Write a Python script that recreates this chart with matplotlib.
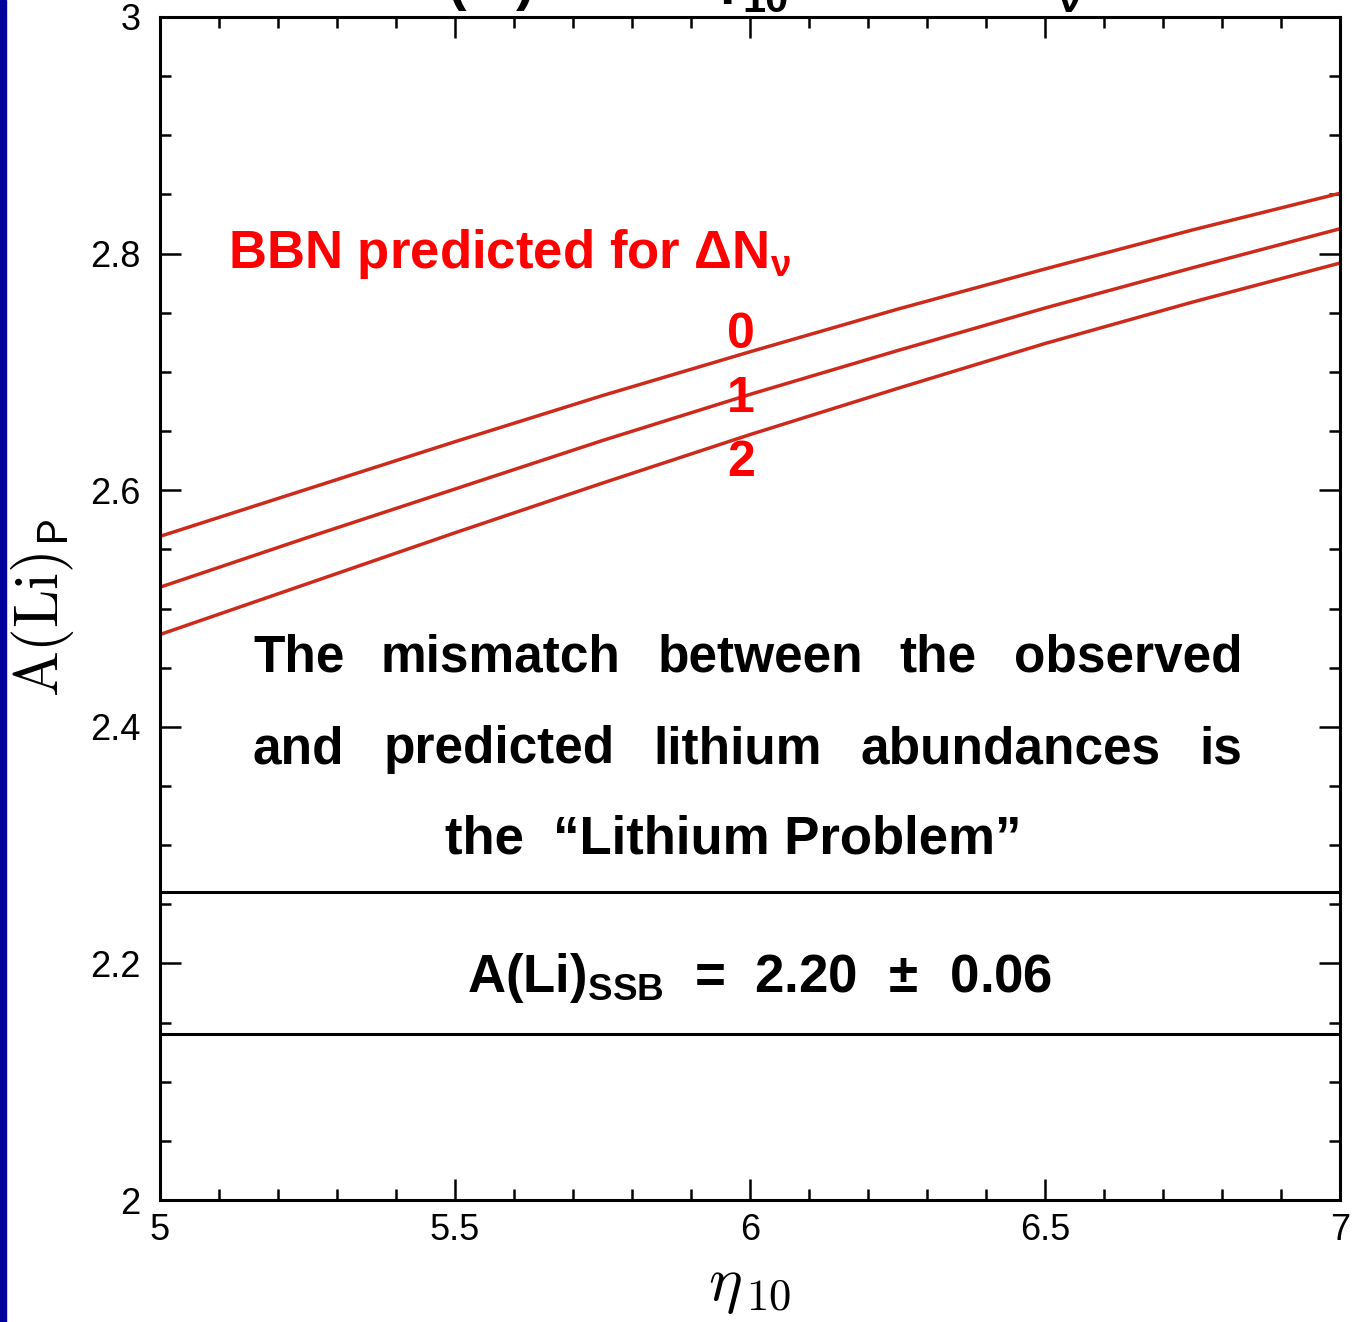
import matplotlib
matplotlib.use('Agg')
from matplotlib import pyplot as plt
from matplotlib.patches import Rectangle
from matplotlib.ticker import MultipleLocator

##########################################################################
#
#   Data
#
##########################################################################

# baryon-to-photon ratio eta_10 and predicted primordial lithium A(Li)_P
eta10 = [5.0, 5.25, 5.5, 5.75, 6.0, 6.25, 6.5, 6.75, 7.0]
dN0 = [2.561, 2.601, 2.641, 2.680, 2.717, 2.753, 2.787, 2.820, 2.851]
dN1 = [2.518, 2.560, 2.601, 2.642, 2.681, 2.718, 2.754, 2.788, 2.821]
dN2 = [2.478, 2.521, 2.564, 2.606, 2.647, 2.686, 2.724, 2.759, 2.792]
curve_labels = ['0', '1', '2']

# observed (stellar) plateau value
li_obs = 2.20
li_err = 0.06

text_lines = [
    ['The', 'mismatch', 'between', 'the', 'observed'],
    ['and', 'predicted', 'lithium', 'abundances', 'is'],
]
last_line = 'the  \u201cLithium Problem\u201d'

##########################################################################
#
#   Figure
#
##########################################################################

W, H = 1354, 1322
plt.rcParams['font.family'] = ['Liberation Sans', 'DejaVu Sans']
plt.rcParams['mathtext.fontset'] = 'custom'
plt.rcParams['mathtext.rm'] = 'Liberation Sans:bold'
plt.rcParams['mathtext.it'] = 'Liberation Sans:bold'
plt.rcParams['mathtext.bf'] = 'Liberation Sans:bold'

fig = plt.figure(figsize=(W / 100, H / 100), dpi=100)
ax = fig.add_axes([160 / W, 1 - 1200 / H, 1180 / W, 1183 / H])

# blue slide border on the left
fig.patches.append(Rectangle((0, 0), 6 / W, 1, transform=fig.transFigure,
                             color='#00009c', zorder=0))


def px(x, y):
    return x / W, 1 - y / H


# slide title, mostly cut off at the top edge
title_kw = dict(fontsize=40, fontweight='bold', va='baseline')
fig.text(*px(535, -1), 'A(Li)', ha='right', **title_kw)
fig.text(*px(700, -8), '\u03b7', ha='left', **title_kw)
fig.text(*px(742, 12), '10', ha='left', fontsize=30, fontweight='bold')
fig.text(*px(1040, -8), '\u0394N', ha='right', **title_kw)
fig.text(*px(1058, 12), '\u03bd', ha='left', fontsize=30, fontweight='bold')

line_color = '#cc2a1a'
for ys in (dN0, dN1, dN2):
    ax.plot(eta10, ys, color=line_color, lw=2.5, solid_capstyle='butt')

ax.axhline(li_obs + li_err, color='black', lw=2.2)
ax.axhline(li_obs - li_err, color='black', lw=2.2)

ax.set_xlim(5, 7)
ax.set_ylim(2, 3)
ax.xaxis.set_minor_locator(MultipleLocator(0.1))
ax.yaxis.set_minor_locator(MultipleLocator(0.05))
ax.set_xticks([5, 5.5, 6, 6.5, 7])
ax.set_xticklabels(['5', '5.5', '6', '6.5', '7'])
ax.set_yticks([2, 2.2, 2.4, 2.6, 2.8, 3])
ax.set_yticklabels(['2', '2.2', '2.4', '2.6', '2.8', '3'])
ax.tick_params(which='both', direction='in', top=True, right=True, width=1.8,
               labelsize=26)
ax.tick_params(which='major', length=15)
ax.tick_params(which='minor', length=8)
ax.tick_params(axis='x', pad=9)
ax.tick_params(axis='y', pad=14)
for sp in ax.spines.values():
    sp.set_linewidth(2.2)

ax.set_ylabel(r'$\mathrm{A(Li)}_{\mathsf{P}}$', fontsize=44,
              math_fontfamily='cm', labelpad=10)
ax.set_xlabel(r'$\eta_{\,10}$', fontsize=46, math_fontfamily='cm', labelpad=6)

# annotations
red = '#ff0000'
fig.text(*px(228, 268), r'BBN predicted for $\Delta$N$_{\nu}$', color=red,
         fontsize=38, fontweight='bold', va='baseline', ha='left')
for lab, yy in zip(curve_labels, [348, 412, 476]):
    fig.text(*px(741, yy), lab, color=red, fontsize=36, fontweight='bold',
             va='baseline', ha='center')

fig.canvas.draw()
renderer = fig.canvas.get_renderer()
for words, base in zip(text_lines, [672, 763]):
    arts = [fig.text(0, 1 - base / H, w, fontsize=37, fontweight='bold',
                     va='baseline') for w in words]
    widths = [a.get_window_extent(renderer).width for a in arts]
    left, right = 253, 1242
    gap = (right - left - sum(widths)) / (len(words) - 1)
    x = left
    for a, w in zip(arts, widths):
        a.set_x(x / W)
        x += w + gap
fig.text(*px(733, 853), last_line, fontsize=38, fontweight='bold',
         va='baseline', ha='center')

fig.text(*px(760, 992), r'A(Li)$_{\mathrm{SSB}}$  =  2.20 $\,\pm\,$ 0.06',
         fontsize=38, fontweight='bold', va='baseline', ha='center')

fig.savefig('out.png', dpi=100, facecolor='white')
